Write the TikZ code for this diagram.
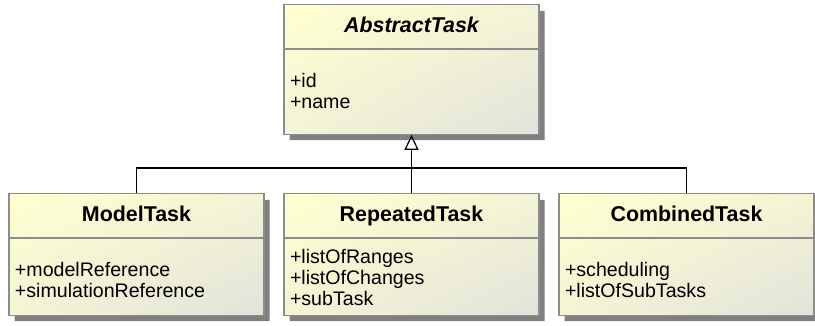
\documentclass[tikz,border=0pt]{standalone}
\usepackage{fontspec}
\setmainfont{Liberation Sans}
\usepackage{tikz}
\usetikzlibrary{arrows.meta,shapes.multipart,shadows,shadings}

\definecolor{boxline}{RGB}{140,140,140}
\definecolor{boxshadow}{RGB}{128,128,128}
\definecolor{boxtop}{RGB}{255,255,208}
\definecolor{boxmid}{RGB}{244,244,214}
\definecolor{boxbottom}{RGB}{226,226,220}

\newcommand{\umltitle}[1]{\parbox[c][43pt][c]{243pt}{\centering\fontsize{21.4}{25}\selectfont\bfseries\rule[-5pt]{0pt}{20pt}#1}}
\newcommand{\umlattrs}[3]{\parbox[c][#1][t]{243pt}{\fontsize{19.6}{21}\selectfont\vspace*{#2}#3}}

\begin{document}
\begin{tikzpicture}[x=1pt,y=-1pt,node distance=275pt,
  umlclass/.style={rectangle split, rectangle split parts=2, draw=boxline, line width=1.2pt,
    inner xsep=6pt, inner ysep=0pt, shade, upper left=boxtop, upper right=boxmid,
    lower left=boxmid, lower right=boxbottom,
    drop shadow={shadow xshift=5.5pt, shadow yshift=-6pt, fill=boxshadow, opacity=1}},
  link/.style={draw=black, line width=1.2pt}]
\useasboundingbox (0,0) rectangle (815,325);

\node[umlclass] (abs) at (411.5,69.5)
  {\umltitle{\itshape AbstractTask}\nodepart{second}\umlattrs{84pt}{23pt}{\strut+id\\\strut+name}};
\node[umlclass] (rep) [below of=abs, node distance=185pt]
  {\umltitle{RepeatedTask}\nodepart{second}\umlattrs{76pt}{10.5pt}{\strut+listOfRanges\\\strut+listOfChanges\\\strut+subTask}};
\node[umlclass] (model) [left of=rep]
  {\umltitle{ModelTask}\nodepart{second}\umlattrs{76pt}{23pt}{\strut+modelReference\\\strut+simulationReference}};
\node[umlclass] (comb) [right of=rep]
  {\umltitle{CombinedTask}\nodepart{second}\umlattrs{76pt}{23pt}{\strut+scheduling\\\strut+listOfSubTasks}};

\coordinate (bus) at (411.5,168);
\draw[link] (model.north) |- (bus) -| (comb.north);
\draw[link,-{Triangle[open,length=15pt,width=14pt]}] (rep.north) -- (abs.south);
\end{tikzpicture}
\end{document}
